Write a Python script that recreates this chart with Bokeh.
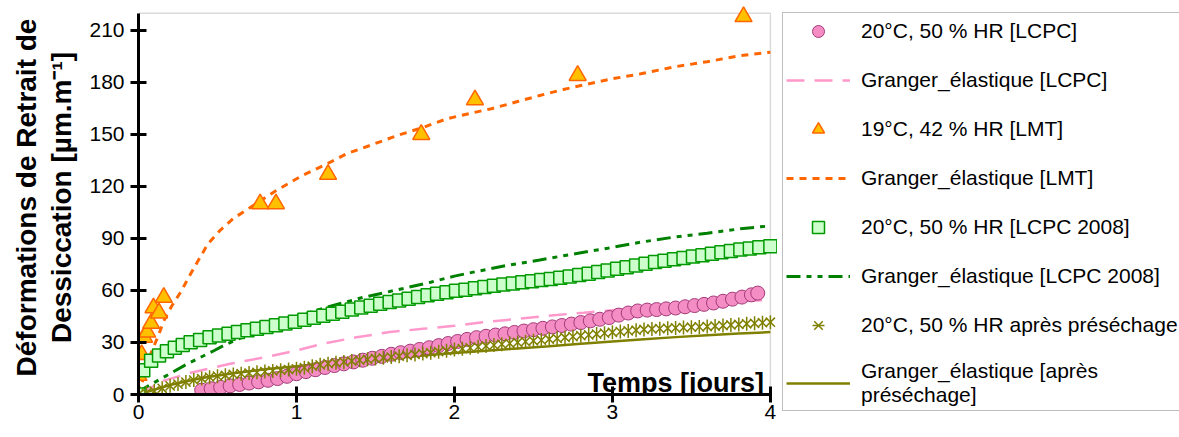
from math import pi
from bokeh.plotting import figure
from bokeh.layouts import row, column
from bokeh.models import (Range1d, FixedTicker, Legend, LegendItem, Label, BoxAnnotation, Title)
from bokeh.embed import file_html
from bokeh.resources import INLINE

FONT = "Liberation Sans"

# ---------------- data ----------------
x_ticks = [0, 1, 2, 3, 4]
y_ticks = [0, 30, 60, 90, 120, 150, 180, 210]

# 20°C, 50 % HR [LCPC]  (circles)
t_lcpc = [0.40, 0.46, 0.52, 0.58, 0.64, 0.70, 0.76, 0.82, 0.88, 0.94, 1.00, 1.06, 1.12, 1.18, 1.24,
          1.30, 1.36, 1.42, 1.48, 1.54, 1.60, 1.66, 1.72, 1.78, 1.84, 1.90, 1.96, 2.02, 2.08, 2.14,
          2.20, 2.26, 2.32, 2.38, 2.44, 2.50, 2.56, 2.62, 2.68, 2.74, 2.80, 2.86, 2.92, 2.98, 3.04,
          3.10, 3.16, 3.22, 3.28, 3.34, 3.40, 3.46, 3.52, 3.58, 3.64, 3.70, 3.76, 3.82, 3.88, 3.92]
v_lcpc = [2.5, 3.3, 4.1, 5.0, 5.8, 6.6, 7.3, 8.2, 9.2, 10.5, 12.0, 13.2, 14.3, 15.6, 16.7,
          17.7, 18.8, 19.8, 20.9, 22.0, 23.2, 24.1, 25.0, 26.0, 27.0, 28.2, 29.4, 30.6, 31.8, 32.8,
          33.6, 34.3, 35.0, 35.8, 36.6, 37.4, 38.2, 39.0, 39.8, 40.6, 41.5, 42.5, 43.4, 44.4, 45.8,
          47.0, 48.2, 48.7, 49.0, 49.4, 49.9, 50.6, 51.3, 52.0, 52.8, 53.8, 55.0, 56.2, 57.5, 58.5]

# Granger_élastique [LCPC]
t_g_lcpc = [0.0, 0.16, 0.33, 0.58, 0.80, 1.00, 1.17, 1.38, 1.59, 1.80, 2.00, 2.18, 2.40, 2.61,
            2.82, 3.00, 3.20, 3.40, 3.60, 3.80, 4.00]
v_g_lcpc = [0.0, 8.0, 12.5, 17.7, 21.5, 25.4, 29.4, 33.0, 36.0, 37.9, 39.6, 41.7, 43.6, 45.6,
            47.2, 48.6, 50.0, 51.3, 52.5, 53.7, 54.7]

# 19°C, 42 % HR [LMT]  (triangles)
t_lmt = [0.0, 0.0, 0.02, 0.035, 0.055, 0.08, 0.095, 0.13, 0.16, 0.77, 0.87, 1.20, 1.79, 2.13, 2.78, 3.83]
v_lmt = [0.0, 11.0, 23.0, 33.0, 36.0, 41.0, 50.0, 47.0, 56.0, 110.0, 110.0, 127.0, 150.0, 170.0, 184.0, 218.0]

# Granger_élastique [LMT]
t_g_lmt = [0.0, 0.04, 0.08, 0.13, 0.16, 0.21, 0.27, 0.32, 0.37, 0.44, 0.52, 0.60, 0.71, 0.86, 1.03,
           1.17, 1.32, 1.49, 1.64, 1.80, 1.95, 2.09, 2.24, 2.40, 2.54, 2.69, 2.84, 2.99, 3.18, 3.39,
           3.60, 3.81, 4.00]
v_g_lmt = [0.0, 12.0, 24.0, 35.0, 42.5, 51.0, 59.5, 68.0, 76.0, 87.0, 95.0, 101.5, 108.0, 117.0, 126.0,
           132.0, 139.0, 144.5, 149.5, 154.0, 159.0, 162.0, 165.0, 169.0, 172.5, 176.0, 179.0, 182.0, 185.0, 189.0,
           192.0, 195.5, 197.5]

# 20°C, 50 % HR [LCPC 2008]  (squares)
t_lcpc08 = [0.00, 0.03, 0.08, 0.13, 0.18, 0.23, 0.28, 0.33, 0.39, 0.45, 0.51, 0.57, 0.63, 0.69, 0.75,
            0.81, 0.87, 0.93, 0.99, 1.05, 1.11, 1.17, 1.23, 1.29, 1.35, 1.41, 1.47, 1.53, 1.59, 1.65,
            1.71, 1.77, 1.83, 1.89, 1.95, 2.01, 2.07, 2.13, 2.19, 2.25, 2.31, 2.37, 2.43, 2.49, 2.55,
            2.61, 2.67, 2.73, 2.79, 2.85, 2.91, 2.97, 3.03, 3.09, 3.15, 3.21, 3.27, 3.33, 3.39, 3.45,
            3.51, 3.57, 3.63, 3.69, 3.75, 3.81, 3.87, 3.93, 4.00]
v_lcpc08 = [0.0, 14.0, 19.5, 22.5, 25.0, 27.0, 28.6, 30.1, 31.5, 33.0, 34.0, 35.0, 36.0, 37.0, 38.0,
            39.0, 40.0, 41.0, 42.0, 43.1, 44.3, 45.4, 46.6, 47.8, 49.0, 50.2, 51.2, 52.3, 53.3, 54.2,
            55.2, 56.2, 57.2, 58.1, 59.0, 59.8, 60.5, 61.3, 62.0, 62.7, 63.4, 64.1, 64.8, 65.4, 66.0,
            66.6, 67.3, 68.1, 68.9, 69.7, 70.6, 71.5, 72.5, 73.4, 74.4, 75.5, 76.4, 77.2, 78.0, 78.8,
            79.6, 80.4, 81.2, 82.0, 82.8, 83.6, 84.3, 84.9, 85.5]

# Granger_élastique [LCPC 2008]
t_g_lcpc08 = [0.0, 0.03, 0.16, 0.31, 0.48, 0.56, 0.80, 1.00, 1.21, 1.42, 1.64, 1.85, 2.00, 2.12,
              2.33, 2.54, 2.75, 2.97, 3.18, 3.39, 3.60, 3.81, 4.00]
v_g_lcpc08 = [0.0, 3.3, 10.0, 17.7, 25.4, 29.2, 38.5, 45.0, 50.8, 56.0, 60.4, 64.8, 68.3, 70.6,
              74.4, 77.6, 81.0, 84.4, 87.9, 90.8, 93.0, 95.6, 97.3]

# 20°C, 50 % HR après préséchage  (asterisks)
t_pre = [0.00, 0.05, 0.10, 0.15, 0.20, 0.25, 0.30, 0.35, 0.40, 0.45, 0.50, 0.55, 0.60, 0.65, 0.70,
         0.75, 0.80, 0.85, 0.90, 0.95, 1.00, 1.05, 1.10, 1.15, 1.20, 1.25, 1.30, 1.35, 1.40, 1.45,
         1.50, 1.55, 1.60, 1.65, 1.70, 1.75, 1.80, 1.85, 1.90, 1.95, 2.00, 2.05, 2.10, 2.15, 2.20,
         2.25, 2.30, 2.35, 2.40, 2.45, 2.50, 2.55, 2.60, 2.65, 2.70, 2.75, 2.80, 2.85, 2.90, 2.95,
         3.00, 3.05, 3.10, 3.15, 3.20, 3.25, 3.30, 3.35, 3.40, 3.45, 3.50, 3.55, 3.60, 3.65, 3.70,
         3.75, 3.80, 3.85, 3.90, 3.95, 4.00]
v_pre = [0.0, 0.8, 2.0, 3.6, 5.0, 6.0, 7.2, 8.3, 9.2, 10.0, 10.6, 11.1, 11.6, 12.0, 12.4,
         12.8, 13.2, 13.6, 14.0, 14.4, 14.8, 15.5, 16.3, 17.1, 17.8, 18.3, 18.8, 19.3, 19.8, 20.3,
         20.8, 21.2, 21.6, 22.1, 22.6, 23.1, 23.6, 24.1, 24.7, 25.3, 25.9, 26.4, 26.9, 27.5, 28.0,
         28.5, 29.0, 29.5, 30.0, 30.5, 31.0, 31.4, 31.9, 32.4, 32.9, 33.4, 33.9, 34.4, 34.9, 35.4,
         35.9, 36.3, 36.7, 37.1, 37.5, 37.8, 38.0, 38.2, 38.4, 38.6, 38.8, 39.0, 39.2, 39.5, 39.8,
         40.1, 40.4, 40.8, 41.1, 41.4, 41.7]

# Granger_élastique [après préséchage]
t_g_pre = [0.0, 0.2, 0.4, 0.6, 0.8, 1.0, 1.2, 1.4, 1.6, 1.8, 2.0, 2.2, 2.4, 2.6, 2.8, 3.0, 3.2,
           3.4, 3.6, 3.8, 4.0]
v_g_pre = [0.0, 5.5, 9.5, 12.3, 14.5, 16.3, 18.0, 19.6, 21.1, 22.5, 24.0, 25.3, 26.6, 27.9, 29.3,
           30.6, 31.9, 33.1, 34.2, 35.2, 36.0]

labels = ["20°C, 50 % HR [LCPC]", "Granger_élastique [LCPC]", "19°C, 42 % HR [LMT]",
          "Granger_élastique [LMT]", "20°C, 50 % HR [LCPC 2008]", "Granger_élastique [LCPC 2008]",
          "20°C, 50 % HR après préséchage", "Granger_élastique [après\npréséchage]"]

# ---------------- styles ----------------
S_G_LCPC = dict(line_color="#FF99CC", line_width=2.5, line_dash="18 10")
S_G_LMT = dict(line_color="#FF6600", line_width=3, line_dash="7 6")
S_G_08 = dict(line_color="#008000", line_width=3, line_dash="14 6 5 6 5 6")
S_G_PRE = dict(line_color="#808000", line_width=2.5)
S_LCPC = dict(marker="circle", size=14, fill_color="#F58DC5", line_color="#A33A78", line_width=1)
S_LMT = dict(marker="triangle", size=17, fill_color="#FFC000", line_color="#FF6600", line_width=1.5)
S_08 = dict(marker="square", size=13, fill_color="#CCFFCC", line_color="#009900", line_width=1.5)
S_PX = dict(marker="x", size=13, line_color="#808000", line_width=1.5)
S_PV = dict(marker="dash", angle=pi / 2, size=14, line_color="#808000", line_width=1.5)

# ---------------- main figure ----------------
p = figure(width=777, height=437,
           x_range=Range1d(0, 4.045), y_range=Range1d(0, 227.3),
           output_backend="svg", toolbar_location=None,
           min_border_left=138, min_border_right=0, min_border_top=0, min_border_bottom=43)
p.grid.visible = False
p.outline_line_color = None
p.background_fill_color = "white"
p.border_fill_color = "white"

for ax in (p.xaxis[0], p.yaxis[0]):
    ax.axis_line_width = 3
    ax.axis_line_color = "black"
    ax.major_tick_line_width = 3
    ax.major_tick_line_color = "black"
    ax.major_tick_in = 8
    ax.major_tick_out = 8
    ax.minor_tick_line_color = None
    ax.major_label_text_font = FONT
    ax.major_label_text_font_size = "21px"
    ax.major_label_text_color = "black"
p.xaxis.ticker = FixedTicker(ticks=x_ticks)
p.yaxis.ticker = FixedTicker(ticks=y_ticks)
p.xaxis.bounds = (0, 4)
p.yaxis.bounds = (0, 220)
p.xaxis.major_label_standoff = 2
p.yaxis.major_label_standoff = 6

# y-axis title on two lines: inner line as the axis label, outer line as a side title
p.yaxis.axis_label = "Dessiccation [µm.m⁻¹]"
p.yaxis.axis_label_text_font = FONT
p.yaxis.axis_label_text_font_style = "bold"
p.yaxis.axis_label_text_font_size = "28px"
p.yaxis.axis_label_text_color = "black"
p.yaxis.axis_label_standoff = 9
p.add_layout(Title(text="Déformations de Retrait de", align="center", text_font=FONT,
                   text_font_style="bold", text_font_size="28px", text_color="black",
                   standoff=4), "left")

# plot-area border (top and right visible)
p.add_layout(BoxAnnotation(left=0, right=4, bottom=0, top=220, fill_color=None, fill_alpha=0,
                           line_color="#888888", line_width=1.5, level="underlay"))

# lines
p.line(t_g_lcpc, v_g_lcpc, **S_G_LCPC)
p.line(t_g_lmt, v_g_lmt, **S_G_LMT)
p.line(t_g_lcpc08, v_g_lcpc08, **S_G_08)
p.line(t_g_pre, v_g_pre, **S_G_PRE)

# markers
p.scatter(t_lcpc, v_lcpc, **S_LCPC)
p.scatter(t_lmt, v_lmt, **S_LMT)
p.scatter(t_lcpc08, v_lcpc08, **S_08)
p.scatter(t_pre, v_pre, **S_PX)
p.scatter(t_pre, v_pre, **S_PV)

# x-axis title inside the plot area
p.add_layout(Label(x=3.96, y=6.5, text="Temps [jours]", text_align="right",
                   text_baseline="alphabetic", text_font=FONT, text_font_style="bold",
                   text_font_size="27px", text_color="black"))

# ---------------- legend panel ----------------
# same series, drawn off-view: this figure only carries the legend
q = figure(width=402, height=437, x_range=Range1d(100, 101), y_range=Range1d(1000, 1001),
           output_backend="svg", toolbar_location=None, min_border=0,
           x_axis_location=None, y_axis_location=None)
q.grid.visible = False
q.outline_line_color = None
q.background_fill_color = "white"
q.border_fill_color = "white"

k_lcpc = q.scatter(t_lcpc, v_lcpc, **S_LCPC)
k_g_lcpc = q.line(t_g_lcpc, v_g_lcpc, **S_G_LCPC)
k_lmt = q.scatter(t_lmt, v_lmt, **S_LMT)
k_g_lmt = q.line(t_g_lmt, v_g_lmt, **S_G_LMT)
k_08 = q.scatter(t_lcpc08, v_lcpc08, **S_08)
k_g_08 = q.line(t_g_lcpc08, v_g_lcpc08, **S_G_08)
k_px = q.scatter(t_pre, v_pre, **S_PX)
k_pv = q.scatter(t_pre, v_pre, **S_PV)
k_g_pre = q.line(t_g_pre, v_g_pre, **S_G_PRE)

legend = Legend(items=[
    LegendItem(label=labels[0], renderers=[k_lcpc]),
    LegendItem(label=labels[1], renderers=[k_g_lcpc]),
    LegendItem(label=labels[2], renderers=[k_lmt]),
    LegendItem(label=labels[3], renderers=[k_g_lmt]),
    LegendItem(label=labels[4], renderers=[k_08]),
    LegendItem(label=labels[5], renderers=[k_g_08]),
    LegendItem(label=labels[6], renderers=[k_px, k_pv]),
    LegendItem(label=labels[7], renderers=[k_g_pre]),
], location=(5, 26))
legend.border_line_color = "#808080"
legend.border_line_width = 1.5
legend.background_fill_color = "white"
legend.background_fill_alpha = 1
legend.padding = 3
legend.spacing = 19
legend.margin = 0
legend.glyph_width = 64
legend.glyph_height = 30
legend.label_standoff = 11
legend.label_width = 340
legend.label_text_font = FONT
legend.label_text_font_size = "21px"
legend.label_text_color = "black"
q.add_layout(legend)

layout = row(p, column(q, spacing=0), spacing=0)
open("out.html", "w").write(file_html(layout, INLINE))
